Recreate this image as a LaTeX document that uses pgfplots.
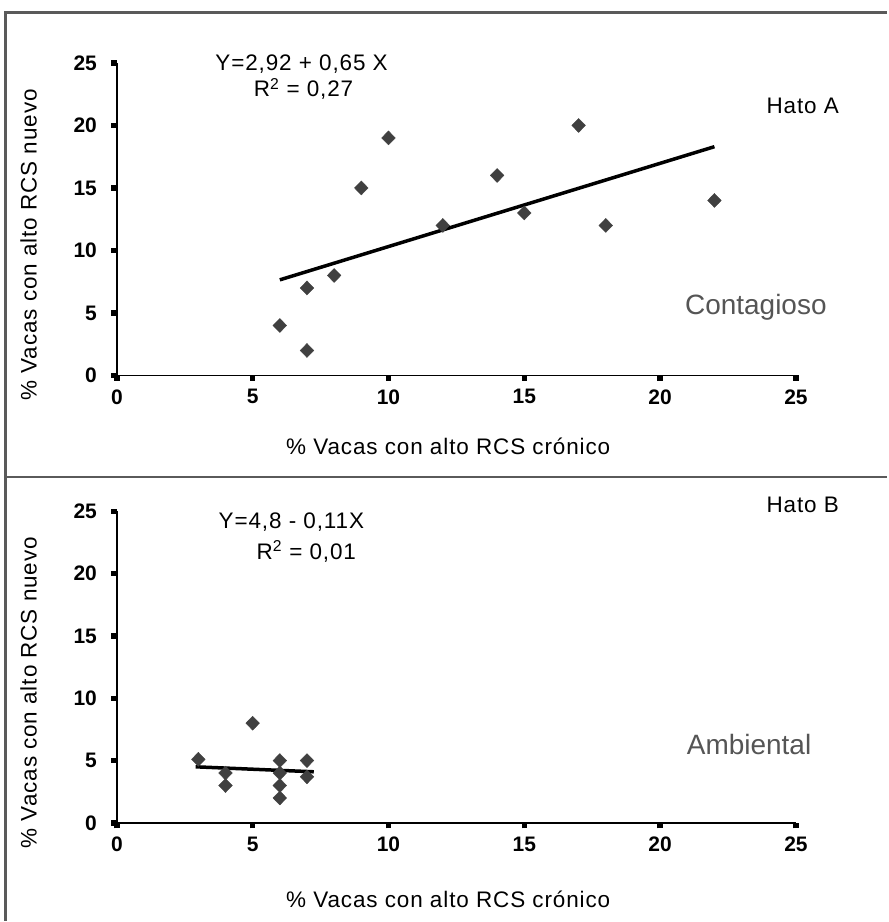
\documentclass[border=0pt]{standalone}
\usepackage{fontspec}
\setmainfont{Liberation Sans}
\newfontfamily\lab[LetterSpace=4]{Liberation Sans}
\usepackage{pgfplots}
\pgfplotsset{compat=1.18}
\definecolor{markgray}{RGB}{64,64,64}
\definecolor{framegray}{RGB}{90,90,90}
\definecolor{notegray}{RGB}{85,85,85}

\pgfplotsset{
  hato/.style={
    scale only axis, width=680pt,
    xmin=0, xmax=25, ymin=0, ymax=25,
    enlargelimits=false, clip=false,
    axis x line*=bottom, axis y line*=left,
    axis line style={-, line width=1.5pt, black},
    xtick={0,5,...,25}, ytick={0,5,...,25},
    major tick length=5.5pt, tick align=outside,
    tick style={line width=5.5pt, black},
    /pgf/number format/assume math mode=true,
    tick label style={font=\bfseries\fontsize{21}{21}\selectfont},
    xticklabel style={yshift=-5pt},
    yticklabel style={xshift=-11pt},
    label style={font=\lab\fontsize{22.5}{26}\selectfont},
    xlabel={\% Vacas con alto RCS crónico},
    ylabel={\% Vacas con alto RCS nuevo},
    ylabel style={at={(rel axis cs:-0.13,0.418)}, anchor=center},
  },
  pts/.style={only marks, mark=diamond*, mark size=7pt,
    mark options={xscale=1.3, fill=markgray, draw=markgray}},
  fit/.style={no marks, line width=3.5pt, black},
}
\tikzset{
  txt/.style={font=\lab\fontsize{22.5}{26}\selectfont},
  note/.style={font=\fontsize{28}{32}\selectfont, text=notegray},
}

\begin{document}
\begin{tikzpicture}
\path (0pt,0pt) rectangle (888pt,-922pt);
\draw[framegray, line width=2.5pt] (5.5pt,-922pt) -- (5.5pt,-12.5pt) -- (888pt,-12.5pt);
\draw[framegray, line width=2.5pt] (5.5pt,-477.5pt) -- (888pt,-477.5pt);

% Hato A
\begin{axis}[hato, height=313pt, at={(117pt,-376pt)}, anchor=south west,
  xlabel style={at={(rel axis cs:0.488,-0.227)}, anchor=center}]
\addplot[pts] coordinates {
  (6,4) (7,2) (7,7) (8,8) (9,15) (10,19) (12,12) (14,16) (15,13) (17,20) (18,12) (22,14)
};
\addplot[fit] coordinates {(6,7.65) (22,18.3)};
\node[txt] at (rel axis cs:0.272,0.997) {Y=2,92 + 0,65 X};
\node[txt] at (rel axis cs:0.275,0.917) {R\textsuperscript{2} = 0,27};
\node[txt] at (rel axis cs:1.010,0.863) {Hato A};
\node[note] at (rel axis cs:0.941,0.217) {Contagioso};
\end{axis}

% Hato B
\begin{axis}[hato, height=312pt, at={(117pt,-824pt)}, anchor=south west,
  xlabel style={at={(rel axis cs:0.488,-0.244)}, anchor=center}]
\addplot[pts] coordinates {
  (3,5.1) (4,4) (4,3) (5,8) (6,5) (6,4) (6,3) (6,2) (7,5) (7,3.7)
};
\addplot[fit] coordinates {(2.9,4.5) (7.25,4.1)};
\node[txt] at (rel axis cs:0.257,0.965) {Y=4,8 - 0,11X};
\node[txt] at (rel axis cs:0.279,0.872) {R\textsuperscript{2} = 0,01};
\node[txt] at (rel axis cs:1.010,1.022) {Hato B};
\node[note] at (rel axis cs:0.931,0.250) {Ambiental};
\end{axis}
\end{tikzpicture}
\end{document}
